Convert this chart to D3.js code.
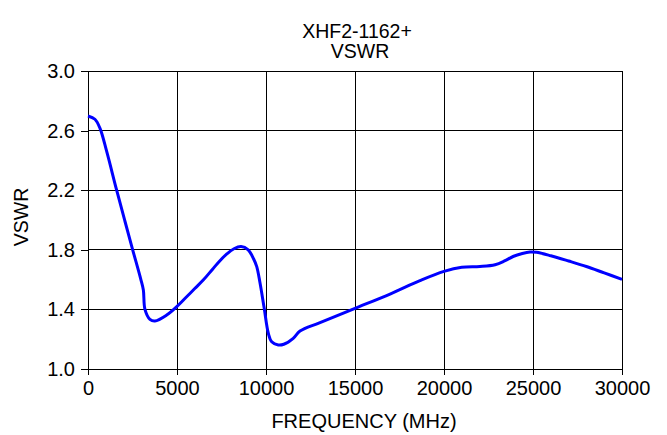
<!DOCTYPE html>
<html>
<head>
<meta charset="utf-8">
<script src="https://cdn.jsdelivr.net/npm/d3@7"></script>
<style>
  html, body { margin: 0; padding: 0; background: #fff; }
  svg { display: block; }
  text { font-family: Arial, "Liberation Sans", sans-serif; fill: #000; }
</style>
</head>
<body>
<svg id="chart" width="667" height="435"></svg>
<script>
const titleLines = ["XHF2-1162+", "VSWR"];
const xLabel = "FREQUENCY (MHz)";
const yLabel = "VSWR";
const xTicks = [0, 5000, 10000, 15000, 20000, 25000, 30000];
const yTicks = [1.0, 1.4, 1.8, 2.2, 2.6, 3.0];
const freq = [0, 390, 675, 1050, 1610, 2080, 2510, 2960, 3110, 3200, 3480, 3760, 4420, 5000, 5500, 6000, 6500, 7000, 7400, 7800, 8200, 8600, 9000, 9300, 9480, 9660, 9900, 10130, 10320, 10690, 11000, 11530, 11910, 13000, 15000, 17000, 18650, 20000, 21000, 22020, 22870, 23400, 23880, 24400, 24830, 25200, 26000, 27000, 28000, 29000, 30000];
const vswr = [2.698, 2.676, 2.615, 2.46, 2.2, 1.99, 1.80, 1.605, 1.53, 1.40, 1.333, 1.322, 1.362, 1.42, 1.48, 1.54, 1.60, 1.67, 1.725, 1.772, 1.807, 1.822, 1.80, 1.74, 1.687, 1.58, 1.407, 1.24, 1.183, 1.161, 1.166, 1.206, 1.255, 1.31, 1.407, 1.505, 1.593, 1.655, 1.683, 1.688, 1.70, 1.725, 1.755, 1.775, 1.785, 1.783, 1.76, 1.725, 1.688, 1.645, 1.602];

const svg = d3.select("#chart");
const m = {left: 88, right: 622, top: 71, bottom: 369};
const x = d3.scaleLinear().domain([0, 30000]).range([m.left, m.right]);
const y = d3.scaleLinear().domain([1.0, 3.0]).range([m.bottom, m.top]);

// grid
const g = svg.append("g").attr("shape-rendering", "crispEdges");
g.selectAll(".vg").data(xTicks).enter().append("line")
  .attr("x1", d => x(d)).attr("x2", d => x(d))
  .attr("y1", m.top).attr("y2", m.bottom)
  .attr("stroke", "#000").attr("stroke-width", 1);
g.selectAll(".hg").data(yTicks).enter().append("line")
  .attr("x1", m.left).attr("x2", m.right)
  .attr("y1", d => y(d)).attr("y2", d => y(d))
  .attr("stroke", "#000").attr("stroke-width", 1);

// axes
const xAxis = d3.axisBottom(x).tickValues(xTicks).tickSize(6).tickPadding(6).tickFormat(d3.format("d"));
const yAxis = d3.axisLeft(y).tickValues(yTicks).tickSize(7).tickPadding(6).tickFormat(d3.format(".1f"));
const gx = svg.append("g").attr("transform", `translate(0,${m.bottom})`).call(xAxis);
const gy = svg.append("g").attr("transform", `translate(${m.left},0)`).call(yAxis);
[gx, gy].forEach(a => {
  a.select(".domain").remove();
  a.selectAll("line").attr("stroke", "#000").attr("shape-rendering", "crispEdges");
  a.selectAll("text").attr("font-size", 20).attr("font-family", "Arial, 'Liberation Sans', sans-serif").attr("fill", "#000");
});
gx.selectAll("text").attr("dy", "0.71em");

// curve
const pts = freq.map((f, i) => [f, vswr[i]]);
const line = d3.line().x(d => x(d[0])).y(d => y(d[1])).curve(d3.curveCatmullRom.alpha(0.5));
svg.append("path").datum(pts).attr("d", line)
  .attr("fill", "none").attr("stroke", "#0000FF").attr("stroke-width", 3)
  .attr("stroke-linejoin", "round");

// titles
svg.append("text").attr("x", 357).attr("y", 38).attr("text-anchor", "middle").attr("font-size", 19.5).text(titleLines[0]);
svg.append("text").attr("x", 360).attr("y", 58).attr("text-anchor", "middle").attr("font-size", 19.5).text(titleLines[1]);
svg.append("text").attr("x", 364).attr("y", 428).attr("text-anchor", "middle").attr("font-size", 20).text(xLabel);
svg.append("text").attr("transform", "translate(28,217) rotate(-90)").attr("text-anchor", "middle").attr("font-size", 19.5).text(yLabel);
</script>
</body>
</html>
